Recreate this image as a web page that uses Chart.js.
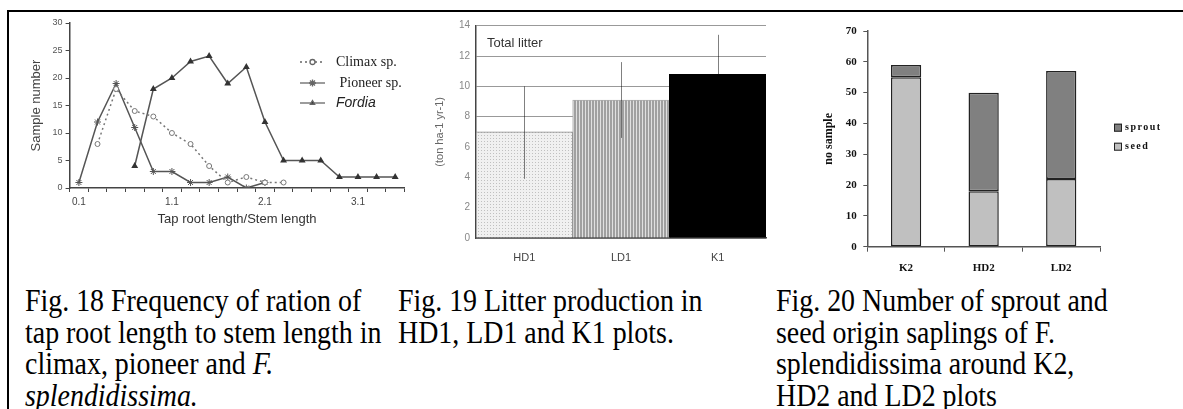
<!DOCTYPE html>
<html>
<head>
<meta charset="utf-8">
<script src="https://cdn.jsdelivr.net/npm/chart.js@4.4.1/dist/chart.umd.min.js"></script>
<style>
  html, body { margin: 0; padding: 0; background: #fff; }
  body { position: relative; width: 1183px; height: 409px; overflow: hidden; }
  .rule-top { position: absolute; left: 7px; top: 10px; width: 1176px; height: 2px; background: #000; }
  .rule-left { position: absolute; left: 7px; top: 10px; width: 2px; height: 399px; background: #000; }
  canvas { position: absolute; }
  .cap {
    position: absolute; top: 285px; white-space: nowrap; color: #000;
    font-family: "Liberation Serif", "Times New Roman", serif; font-size: 31px; line-height: 31.7px;
    transform: scaleX(0.9); transform-origin: 0 0;
  }
</style>
</head>
<body>
<div class="rule-top"></div>
<div class="rule-left"></div>
<canvas id="fig18" width="400" height="222" style="left:10px;top:12px"></canvas>
<canvas id="fig19" width="380" height="262" style="left:400px;top:12px"></canvas>
<canvas id="fig20" width="393" height="268" style="left:790px;top:12px"></canvas>

<div class="cap" style="left:25px">Fig. 18 Frequency of ration of<br>tap root length to stem length in<br>climax, pioneer and <i>F.</i><br><i>splendidissima.</i></div>
<div class="cap" style="left:398px">Fig. 19 Litter production in<br>HD1, LD1 and K1 plots.</div>
<div class="cap" style="left:776px">Fig. 20 Number of sprout and<br>seed origin saplings of F.<br>splendidissima around K2,<br>HD2 and LD2 plots</div>

<script>
// Fig. 18 - tap root / stem length classes
const ratioClasses = ['0.1', '0.3', '0.5', '0.7', '0.9', '1.1', '1.3', '1.5', '1.7',
  '1.9', '2.1', '2.3', '2.5', '2.7', '2.9', '3.1', '3.3', '3.5'];
const ratioTickLabels = ['0.1', '1.1', '2.1', '3.1'];
const climax = [null, 8, 18, 14, 13, 10, 8, 4, 1, 2, 1, 1, null, null, null, null, null, null];
const pioneer = [1, 12, 19, 11, 3, 3, 1, 1, 2, 0, 1, null, null, null, null, null, null, null];
const fordia = [null, null, null, 4, 18, 20, 23, 24, 19, 22, 12, 5, 5, 5, 2, 2, 2, 2];

// Fig. 19 - litter production
const litterPlots = ['HD1', 'LD1', 'K1'];
const litterMean = [7.0, 9.1, 10.8];
const litterLow = [3.9, 6.6, 8.2];
const litterHigh = [10.0, 11.6, 13.4];

// Fig. 20 - sapling origin
const saplingPlots = ['K2', 'HD2', 'LD2'];
const seed = [55, 18, 22];
const sprout = [4, 32, 35];

const sans = '"Liberation Sans", Arial, sans-serif';
const serif = '"Liberation Serif", "Times New Roman", serif';

function drawMarker(ctx, style, x, y) {
  if (window.Chart && Chart.helpers && Chart.helpers.drawPoint) {
    Chart.helpers.drawPoint(ctx, { pointStyle: style.pointStyle, radius: style.radius, rotation: 0, borderWidth: 1 }, x, y);
  }
}

const fig18Legend = {
  id: 'fig18Legend',
  afterDraw(chart) {
    const ctx = chart.ctx;
    const rows = [
      { text: 'Climax sp.', y: 50, dash: [2, 3], pointStyle: 'circle', radius: 2.5, fill: '#fff', font: '14px ' + serif },
      { text: ' Pioneer sp.', y: 71, dash: [], pointStyle: 'star', radius: 3.5, fill: '#555', font: '14px ' + serif },
      { text: 'Fordia', y: 91, dash: [], pointStyle: 'triangle', radius: 2.5, fill: '#333', font: 'italic 14px ' + sans },
    ];
    ctx.save();
    rows.forEach((r) => {
      ctx.strokeStyle = '#666';
      ctx.lineWidth = 1.3;
      ctx.setLineDash(r.dash);
      ctx.beginPath();
      ctx.moveTo(290, r.y);
      ctx.lineTo(315, r.y);
      ctx.stroke();
      ctx.setLineDash([]);
      ctx.fillStyle = r.fill;
      drawMarker(ctx, r, 302.5, r.y);
      ctx.fillStyle = '#222';
      ctx.font = r.font;
      ctx.textBaseline = 'middle';
      ctx.fillText(r.text, 326, r.y);
    });
    ctx.restore();
  },
};

new Chart(document.getElementById('fig18'), {
  type: 'line',
  data: {
    labels: ratioClasses,
    datasets: [
      {
        label: 'Climax sp.', data: climax, borderColor: '#777', borderWidth: 1.5, borderDash: [2, 3],
        pointStyle: 'circle', pointRadius: 2.5, pointBackgroundColor: '#fff', pointBorderColor: '#777', pointBorderWidth: 1,
      },
      {
        label: 'Pioneer sp.', data: pioneer, borderColor: '#555', borderWidth: 1.5,
        pointStyle: 'star', pointRadius: 3.5, pointBorderColor: '#555', pointBorderWidth: 1,
      },
      {
        label: 'Fordia', data: fordia, borderColor: '#555', borderWidth: 1.5,
        pointStyle: 'triangle', pointRadius: 2.5, pointBackgroundColor: '#333', pointBorderColor: '#333',
      },
    ],
  },
  options: {
    responsive: false,
    animation: false,
    layout: { padding: { top: 11, right: 0.2, left: 0, bottom: 0 } },
    plugins: { legend: { display: false }, tooltip: { enabled: false } },
    scales: {
      x: {
        offset: true,
        grid: { offset: true, drawOnChartArea: false, tickLength: 4, color: '#444' },
        border: { color: '#444', width: 1.5 },
        ticks: {
          autoSkip: false, maxRotation: 0, padding: 4, color: '#444', font: { family: sans, size: 10 },
          callback: (v, i) => (ratioTickLabels.includes(ratioClasses[i]) ? ratioClasses[i] : ''),
        },
        title: { display: true, text: 'Tap root length/Stem length', color: '#333', font: { family: sans, size: 13 }, padding: { top: 0, bottom: 7 } },
        afterFit: (s) => { s.height = 46; },
      },
      y: {
        min: 0, max: 30,
        grid: { drawOnChartArea: false, tickLength: 4, color: '#444' },
        border: { color: '#444', width: 1.5 },
        ticks: { stepSize: 5, padding: 3, color: '#555', font: { family: sans, size: 9 } },
        title: { display: true, text: 'Sample number', color: '#444', font: { family: sans, size: 13 }, padding: { top: 19, bottom: 0 } },
        afterFit: (s) => { s.width = 59.6; },
      },
    },
  },
  plugins: [fig18Legend],
});

function makePattern(w, h, draw) {
  const c = document.createElement('canvas');
  c.width = w;
  c.height = h;
  const g = c.getContext('2d');
  draw(g);
  return g.createPattern(c, 'repeat');
}
const dotted = makePattern(3, 3, (g) => {
  g.fillStyle = '#f0f0f0'; g.fillRect(0, 0, 3, 3);
  g.fillStyle = '#c0c0c0'; g.fillRect(0, 0, 1, 1);
});
const striped = makePattern(3, 1, (g) => {
  g.fillStyle = '#e0e0e0'; g.fillRect(0, 0, 3, 1);
  g.fillStyle = '#a0a0a0'; g.fillRect(0, 0, 2, 1);
});

const fig19Extras = {
  id: 'fig19Extras',
  afterDatasetsDraw(chart) {
    const ctx = chart.ctx;
    const y = chart.scales.y;
    const bars = chart.getDatasetMeta(0).data;
    ctx.save();
    // multiply keeps the whisker grey on light fills and hides it inside the black bar
    ctx.globalCompositeOperation = 'multiply';
    ctx.strokeStyle = '#808080';
    ctx.lineWidth = 1;
    bars.forEach((bar, i) => {
      ctx.beginPath();
      ctx.moveTo(Math.round(bar.x) + 0.5, y.getPixelForValue(litterLow[i]));
      ctx.lineTo(Math.round(bar.x) + 0.5, y.getPixelForValue(litterHigh[i]));
      ctx.stroke();
    });
    ctx.globalCompositeOperation = 'source-over';
    ctx.fillStyle = '#333';
    ctx.font = '13px ' + sans;
    ctx.textBaseline = 'middle';
    ctx.fillText('Total litter', 87, 31);
    ctx.restore();
  },
};

new Chart(document.getElementById('fig19'), {
  type: 'bar',
  data: {
    labels: litterPlots,
    datasets: [{
      label: 'Total litter',
      data: litterMean,
      backgroundColor: [dotted, striped, '#000'],
      borderColor: ['#888', '#aaa', '#000'],
      borderWidth: 1,
      borderSkipped: 'bottom',
      barPercentage: 1,
      categoryPercentage: 1,
    }],
  },
  options: {
    responsive: false,
    animation: false,
    layout: { padding: { top: 13.7, right: 14, left: 0, bottom: 0 } },
    plugins: { legend: { display: false }, tooltip: { enabled: false } },
    scales: {
      x: {
        grid: { display: false, drawTicks: false },
        border: { color: '#444', width: 1.5 },
        ticks: { padding: 13.5, color: '#444', font: { family: sans, size: 11 } },
        afterFit: (s) => { s.height = 36; },
      },
      y: {
        min: 0, max: 14,
        grid: { color: '#999', lineWidth: 1, drawTicks: false },
        border: { color: '#444', width: 1.5 },
        ticks: { stepSize: 2, padding: 6, color: '#888', font: { family: sans, size: 10 } },
        title: { display: true, text: '(ton ha-1 yr-1)', color: '#666', font: { family: sans, size: 11 }, padding: { top: 33, bottom: 0 } },
        afterFit: (s) => { s.width = 76; },
      },
    },
  },
  plugins: [fig19Extras],
});

const fig20Legend = {
  id: 'fig20Legend',
  afterDraw(chart) {
    const ctx = chart.ctx;
    const rows = [
      { text: 'sprout', color: '#808080', y: 115.7 },
      { text: 'seed', color: '#c0c0c0', y: 134.7 },
    ];
    ctx.save();
    rows.forEach((r) => {
      ctx.fillStyle = r.color;
      ctx.fillRect(324, r.y - 4, 8, 8);
      ctx.strokeStyle = '#222';
      ctx.lineWidth = 1;
      ctx.strokeRect(324.5, r.y - 3.5, 7, 7);
      ctx.fillStyle = '#111';
      ctx.font = 'bold 10px ' + serif;
      if ('letterSpacing' in ctx) ctx.letterSpacing = '1.5px';
      ctx.textBaseline = 'middle';
      ctx.fillText(r.text, 335, r.y);
    });
    ctx.restore();
  },
};

const boldSerif = { family: serif, size: 11, weight: 'bold' };
new Chart(document.getElementById('fig20'), {
  type: 'bar',
  data: {
    labels: saplingPlots,
    datasets: [
      { label: 'seed', data: seed, backgroundColor: '#c0c0c0', borderColor: '#222', borderWidth: 1.5, borderSkipped: false, barPercentage: 0.39, categoryPercentage: 1 },
      { label: 'sprout', data: sprout, backgroundColor: '#808080', borderColor: '#222', borderWidth: 1.5, borderSkipped: false, barPercentage: 0.39, categoryPercentage: 1 },
    ],
  },
  options: {
    responsive: false,
    animation: false,
    layout: { padding: { top: 19, right: 83, left: 0, bottom: 0 } },
    plugins: { legend: { display: false }, tooltip: { enabled: false } },
    scales: {
      x: {
        stacked: true,
        grid: { offset: true, drawOnChartArea: false, tickLength: 5, color: '#555' },
        border: { color: '#555', width: 1.5 },
        ticks: { padding: 9.5, color: '#111', font: boldSerif },
        afterFit: (s) => { s.height = 33.3; },
      },
      y: {
        stacked: true,
        min: 0, max: 70,
        grid: { drawOnChartArea: false, tickLength: 4, color: '#555' },
        border: { color: '#555', width: 1.5 },
        ticks: { stepSize: 10, padding: 6.6, color: '#111', font: boldSerif },
        title: { display: true, text: 'no sample', color: '#111', font: { family: serif, size: 12, weight: 'bold' }, padding: { top: 32, bottom: 0 } },
        afterFit: (s) => { s.width = 77.3; },
      },
    },
  },
  plugins: [fig20Legend],
});
</script>
</body>
</html>
